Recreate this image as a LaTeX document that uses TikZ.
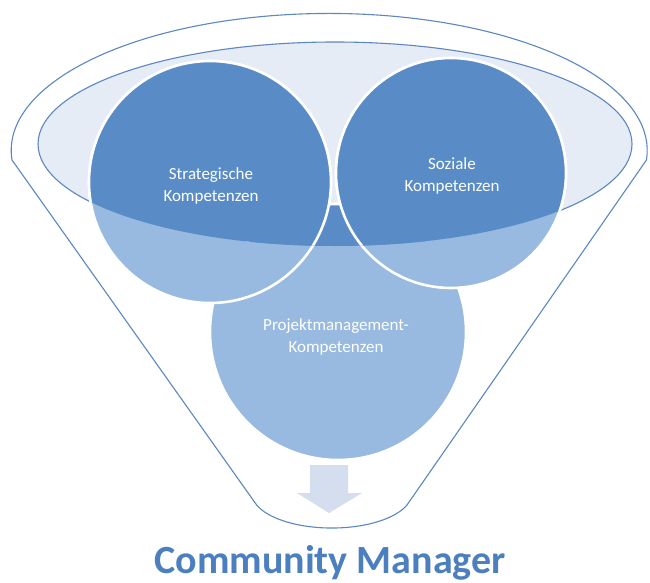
\documentclass[tikz,border=0pt]{standalone}
\usepackage{fontspec}
\setmainfont{Carlito}
\usetikzlibrary{positioning}

\definecolor{funnelline}{RGB}{92,135,192}
\definecolor{rimfill}{RGB}{230,236,245}
\definecolor{balldark}{RGB}{89,140,199}
\definecolor{balllight}{RGB}{152,185,224}
\definecolor{arrowfill}{RGB}{212,222,238}
\definecolor{titleblue}{RGB}{76,127,189}

\begin{document}
\begin{tikzpicture}[x=1pt, y=-1pt,
    outline/.style={draw=funnelline, line width=1.1pt},
    ball/.style={fill=#1, draw=white, line width=2.6pt},
    label/.style={text=white, align=center,
                  font=\fontsize{17}{22}\selectfont}]
  \useasboundingbox (0,0) rectangle (650,583);

  %% Funnel body
  \draw[outline, fill=white] (12,160)
    arc[start angle=176, end angle=364, x radius=318, y radius=137]
    -- (407,505)
    arc[start angle=20, end angle=160, x radius=80, y radius=35]
    -- cycle;

  %% Rim of the funnel
  \path[outline, fill=rimfill] (335,144) ellipse[x radius=297, y radius=102];

  %% Balls (lower third one sits behind)
  \coordinate (projC)  at (338,332);
  \coordinate (stratC) at (210,182);
  \coordinate (sozC)   at (451,173);
  \path[ball=balllight] (projC)  circle[radius=128];
  \path[ball=balllight] (stratC) circle[radius=121];
  \path[ball=balllight] (sozC)   circle[radius=115];

  %% Darker inside the rim
  \begin{scope}
    \clip (335,144) ellipse[x radius=297, y radius=102];
    \path[ball=balldark] (projC)  circle[radius=128];
    \path[ball=balldark] (stratC) circle[radius=121];
    \path[ball=balldark] (sozC)   circle[radius=115];
  \end{scope}

  %% Labels
  \node[label] (strat) at (211,186) {Strategische\\Kompetenzen};
  \node[label] (soz)   at (452,176) {Soziale\\Kompetenzen};
  \node[label] (proj)  at (336,337) {Projektmanagement-\\Kompetenzen};

  %% Outlet arrow
  \fill[arrowfill] (310,465) -- (348,465) -- (348,493) -- (362,493)
    -- (329,513) -- (297,493) -- (310,493) -- cycle;

  %% Result
  \node[text=titleblue, font=\fontsize{40}{40}\selectfont\bfseries,
        anchor=base] (result) at (330,573) {Community Manager};
\end{tikzpicture}
\end{document}
